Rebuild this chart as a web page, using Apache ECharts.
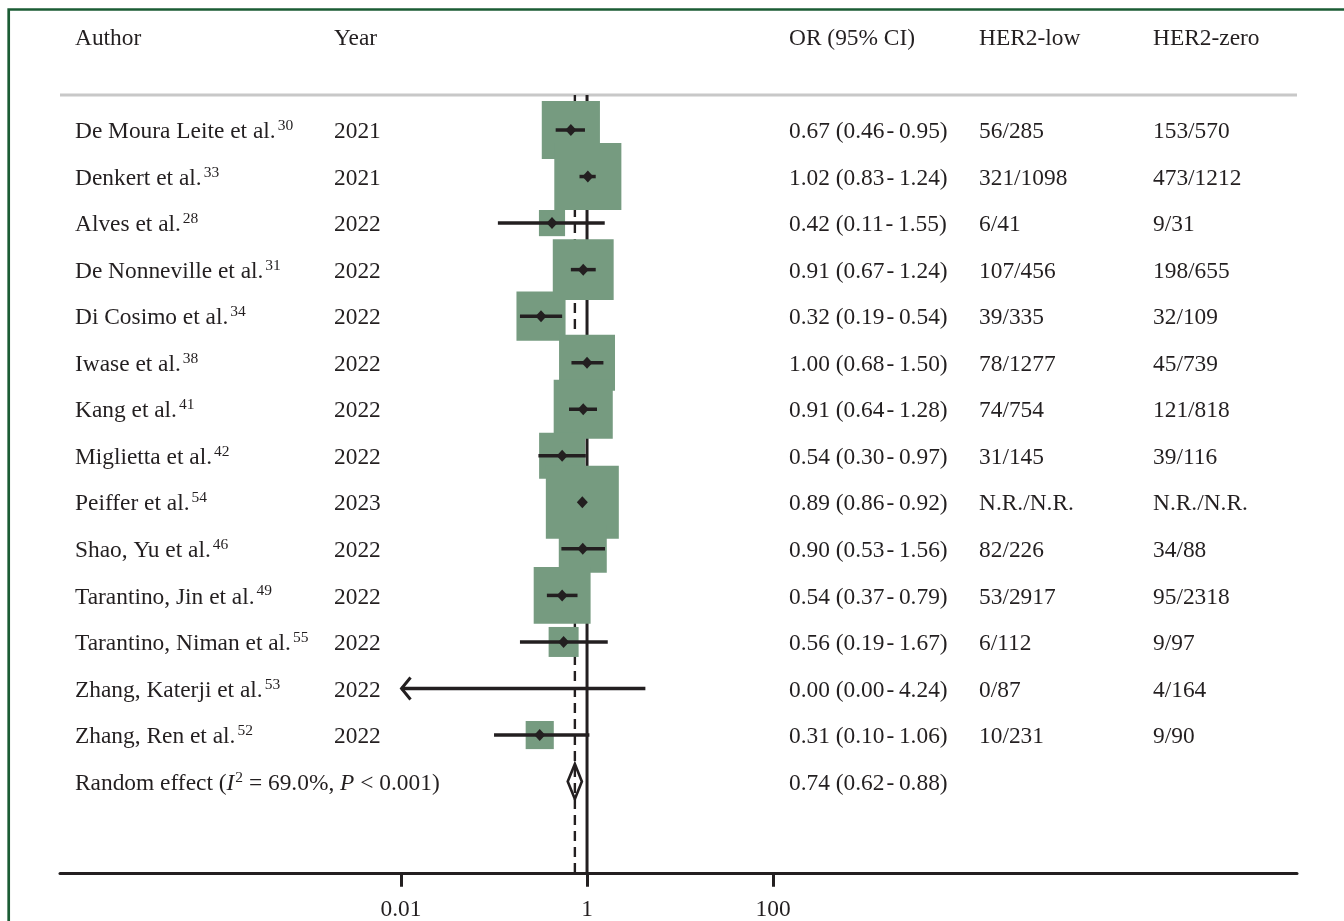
<!DOCTYPE html>
<html><head><meta charset="utf-8">
<script src="https://cdn.jsdelivr.net/npm/echarts@6/dist/echarts.min.js"></script>
<style>html,body{margin:0;padding:0;background:#fff}#c{width:1344px;height:921px}</style>
</head><body><div id="c"></div>
<script>
// ---------------- data ----------------
const authors = ['De Moura Leite et al.', 'Denkert et al.', 'Alves et al.', 'De Nonneville et al.', 'Di Cosimo et al.', 'Iwase et al.', 'Kang et al.', 'Miglietta et al.', 'Peiffer et al.', 'Shao, Yu et al.', 'Tarantino, Jin et al.', 'Tarantino, Niman et al.', 'Zhang, Katerji et al.', 'Zhang, Ren et al.'];
const refNums = ['30', '33', '28', '31', '34', '38', '41', '42', '54', '46', '49', '55', '53', '52'];
const years = ['2021', '2021', '2022', '2022', '2022', '2022', '2022', '2022', '2023', '2022', '2022', '2022', '2022', '2022'];
const orValues = [0.67, 1.02, 0.42, 0.91, 0.32, 1.00, 0.91, 0.54, 0.89, 0.90, 0.54, 0.56, 0.00, 0.31];
const ciLower = [0.46, 0.83, 0.11, 0.67, 0.19, 0.68, 0.64, 0.30, 0.86, 0.53, 0.37, 0.19, 0.00, 0.10];
const ciUpper = [0.95, 1.24, 1.55, 1.24, 0.54, 1.50, 1.28, 0.97, 0.92, 1.56, 0.79, 1.67, 4.24, 1.06];
const her2Low = ['56/285', '321/1098', '6/41', '107/456', '39/335', '78/1277', '74/754', '31/145', 'N.R./N.R.', '82/226', '53/2917', '6/112', '0/87', '10/231'];
const her2Zero = ['153/570', '473/1212', '9/31', '198/655', '32/109', '45/739', '121/818', '39/116', 'N.R./N.R.', '34/88', '95/2318', '9/97', '4/164', '9/90'];
const weights = [9.4, 12.5, 1.9, 10.3, 6.7, 8.7, 9.7, 5.9, 14.8, 6.4, 9.0, 2.5, 0, 2.2];
const pooledOR = 0.74, pooledLo = 0.62, pooledHi = 0.88;
const pooledLabel = 'Random effect';
const i2Text = '69.0%';
const pValueText = '< 0.001';
const headers = ['Author', 'Year', 'OR (95% CI)', 'HER2-low', 'HER2-zero'];
const xTickValues = [0.01, 1, 100];
const refValues = [1, pooledOR];
const displayFloor = 0.01;

// ---------------- style / layout ----------------
const FONT = '"Liberation Serif", "Times New Roman", serif';
const FS = 23.4;
const INK = '#231f20';
const BOX = '#769b80';
const colX = [75, 334, 789, 979, 1153];
const headerY = 39;
const textDy = 2;
const boxScale = 18.97;
const yMin = -0.75, yMax = 15.96;

const nStudies = authors.length;
const pooledRow = nStudies;
const fmt = v => v.toFixed(2);
const DASH = '\u200A-\u2009';
const orText = i => fmt(orValues[i]) + ' (' + fmt(ciLower[i]) + DASH + fmt(ciUpper[i]) + ')';
const pooledText = fmt(pooledOR) + ' (' + fmt(pooledLo) + DASH + fmt(pooledHi) + ')';
const lg = Math.log10;

const rich = {
  n: { fontSize: FS, fontFamily: FONT, color: INK, lineHeight: 28 },
  i: { fontSize: FS, fontFamily: FONT, color: INK, fontStyle: 'italic', lineHeight: 28 },
  s: { fontSize: 15.5, fontFamily: FONT, color: INK, verticalAlign: 'top', lineHeight: 18, padding: [0, 0, 0, 2] },
  s2: { fontSize: 15.5, fontFamily: FONT, color: INK, verticalAlign: 'top', lineHeight: 18, padding: [0, 0, 0, 1] }
};

const rowData = [];
for (let i = 0; i <= nStudies; i++) rowData.push([0, i]);
const studyData = rowData.slice(0, nStudies);

function txt(x, y, text) {
  return { type: 'text', style: { x: x, y: y + textDy, text: text, rich: rich, fontSize: FS, fontFamily: FONT, fill: INK, verticalAlign: 'middle', align: 'left' } };
}

const chart = echarts.init(document.getElementById('c'), null, { renderer: 'canvas' });
chart.setOption({
  backgroundColor: '#ffffff',
  animation: false,
  grid: { left: 60, right: 47, top: 95.1, bottom: 48.2, outerBoundsMode: 'none' },
  xAxis: {
    type: 'value', min: lg(displayFloor) - 3.667, max: 7.634,
    splitLine: { show: false },
    axisLine: { show: true, onZero: false, lineStyle: { color: INK, width: 3 } },
    axisTick: { show: true, customValues: xTickValues.map(lg), length: 14, lineStyle: { color: INK, width: 3 } },
    axisLabel: {
      show: true, customValues: xTickValues.map(lg), margin: 26,
      fontSize: FS, fontFamily: FONT, color: INK,
      formatter: v => String(xTickValues.find(t => Math.abs(lg(t) - v) < 1e-9))
    }
  },
  yAxis: { type: 'value', inverse: true, min: yMin, max: yMax, show: false },
  graphic: [
    { type: 'rect', shape: { x: 8.7, y: 9.5, width: 1400, height: 1000 }, style: { fill: 'none', stroke: '#1b5c35', lineWidth: 2.7 }, z: 10 },
    { type: 'line', shape: { x1: 60, y1: 95, x2: 1297, y2: 95 }, style: { stroke: '#c8c8c8', lineWidth: 3 }, z: 0 }
  ].concat(headers.map((h, k) => ({
    type: 'text', x: colX[k], y: headerY,
    style: { text: h, fontSize: FS, fontFamily: FONT, fill: INK, verticalAlign: 'middle', align: 'left' }
  }))),
  series: [
    { // reference lines (null effect and pooled estimate)
      type: 'custom', z: 1, clip: false,
      data: refValues.map((v, k) => [lg(v), k]),
      renderItem: function (params, api) {
        const k = api.value(1);
        const x = lg(refValues[k]);
        const a = api.coord([x, yMin]), b = api.coord([x, yMax]);
        return { type: 'line', shape: { x1: a[0], y1: a[1], x2: b[0], y2: b[1] },
          style: k === 0 ? { stroke: INK, lineWidth: 3 } : { stroke: INK, lineWidth: 2.4, lineDash: [10, 6] } };
      }
    },
    { // weight boxes
      type: 'custom', z: 2, clip: false,
      data: studyData,
      renderItem: function (params, api) {
        const i = api.value(1);
        if (!(weights[i] > 0) || !(orValues[i] > 0)) return { type: 'group', children: [] };
        const c = api.coord([lg(orValues[i]), i]);
        const s = boxScale * Math.sqrt(weights[i]);
        return { type: 'rect', shape: { x: c[0] - s / 2, y: c[1] - s / 2, width: s, height: s }, style: { fill: BOX } };
      }
    },
    { // CIs and point estimates
      type: 'custom', z: 3, clip: false,
      data: studyData,
      renderItem: function (params, api) {
        const i = api.value(1);
        const lo = Math.max(ciLower[i], displayFloor);
        const p1 = api.coord([lg(lo), i]);
        const p2 = api.coord([lg(ciUpper[i]), i]);
        const ch = [{ type: 'line', shape: { x1: p1[0], y1: p1[1], x2: p2[0], y2: p2[1] }, style: { stroke: INK, lineWidth: 3.5 } }];
        if (ciLower[i] < displayFloor) {
          ch.push({ type: 'polyline', shape: { points: [[p1[0] + 9.5, p1[1] - 11], [p1[0] + 0.5, p1[1]], [p1[0] + 9.5, p1[1] + 11]] },
            style: { stroke: INK, lineWidth: 3, fill: null } });
        }
        if (orValues[i] > 0) {
          const c = api.coord([lg(orValues[i]), i]);
          ch.push({ type: 'polygon', shape: { points: [[c[0], c[1] - 6], [c[0] + 5.5, c[1]], [c[0], c[1] + 6], [c[0] - 5.5, c[1]]] }, style: { fill: INK } });
        }
        return { type: 'group', children: ch };
      }
    },
    { // pooled diamond
      type: 'custom', z: 3, clip: false,
      data: [[lg(pooledOR), pooledRow]],
      renderItem: function (params, api) {
        const r = api.value(1);
        const a = api.coord([lg(pooledLo), r]);
        const m = api.coord([lg(pooledOR), r]);
        const b = api.coord([lg(pooledHi), r]);
        return { type: 'polygon', shape: { points: [[a[0], a[1]], [m[0], m[1] - 17.5], [b[0], b[1]], [m[0], m[1] + 17.5]] },
          style: { fill: 'none', stroke: INK, lineWidth: 2.6 } };
      }
    },
    { // table text
      type: 'custom', z: 4, clip: false,
      data: rowData,
      renderItem: function (params, api) {
        const i = api.value(1);
        const y = api.coord([0, i])[1];
        if (i === pooledRow) {
          return { type: 'group', children: [
            txt(colX[0], y, '{n|' + pooledLabel + ' (}{i|I}{s2|2}{n| = ' + i2Text + ', }{i|P}{n| ' + pValueText + ')}'),
            txt(colX[2], y, '{n|' + pooledText + '}')
          ] };
        }
        return { type: 'group', children: [
          txt(colX[0], y, '{n|' + authors[i] + '}{s|' + refNums[i] + '}'),
          txt(colX[1], y, '{n|' + years[i] + '}'),
          txt(colX[2], y, '{n|' + orText(i) + '}'),
          txt(colX[3], y, '{n|' + her2Low[i] + '}'),
          txt(colX[4], y, '{n|' + her2Zero[i] + '}')
        ] };
      }
    }
  ]
});
</script>
</body></html>
